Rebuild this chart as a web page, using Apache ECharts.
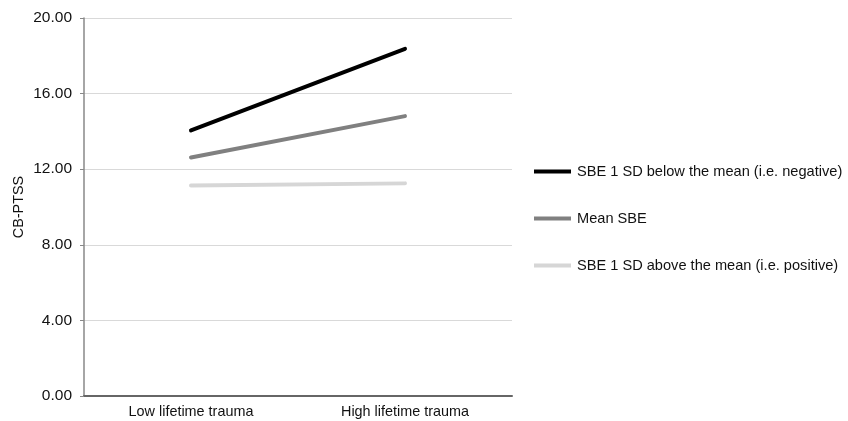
<!DOCTYPE html>
<html>
<head>
<meta charset="utf-8">
<script src="https://cdn.jsdelivr.net/npm/echarts@6/dist/echarts.min.js"></script>
<style>
  html, body { margin: 0; padding: 0; background: #fff; }
  #chart { width: 848px; height: 421px; }
</style>
</head>
<body>
<div id="chart"></div>
<script>
const categories = ['Low lifetime trauma', 'High lifetime trauma']
const seriesNames = [
  'SBE 1 SD below the mean (i.e. negative)',
  'Mean SBE',
  'SBE 1 SD above the mean (i.e. positive)'
]
const belowMean = [14.05, 18.37]
const meanSbe = [12.62, 14.81]
const aboveMean = [11.14, 11.25]
const seriesColors = ['#000000', '#808080', '#d6d6d6']

const font = 'Liberation Sans, Arial, sans-serif'

function lineSeries(name, data, color) {
  return {
    name: name,
    type: 'line',
    data: data,
    symbol: 'none',
    lineStyle: { color: color, width: 4, cap: 'round' },
    itemStyle: { color: color }
  }
}

const chart = echarts.init(document.getElementById('chart'))
chart.setOption({
  animation: false,
  backgroundColor: '#fff',
  textStyle: { fontFamily: font },
  grid: {
    left: 84, right: 336, top: 18, bottom: 25,
    containLabel: false, outerBoundsMode: 'none'
  },
  legend: {
    orient: 'vertical',
    left: 529,
    top: 159,
    itemWidth: 37,
    itemHeight: 4,
    itemGap: 32,
    icon: 'rect',
    textStyle: { fontFamily: font, fontSize: 14.6, color: '#111', padding: [0, 0, 0, 1] },
    data: seriesNames
  },
  xAxis: {
    type: 'category',
    data: categories,
    boundaryGap: true,
    axisLine: { lineStyle: { color: '#666', width: 2 } },
    axisTick: { show: false },
    axisLabel: { fontSize: 14.4, color: '#111', margin: 9 }
  },
  yAxis: {
    type: 'value',
    min: 0,
    max: 20,
    interval: 4,
    name: 'CB-PTSS',
    nameLocation: 'middle',
    nameGap: 58,
    nameMoveOverlap: false,
    nameRotate: 90,
    nameTextStyle: { fontSize: 14.4, color: '#111' },
    axisLine: { show: true, lineStyle: { color: '#888', width: 1.5 } },
    axisTick: { show: true, length: 4, lineStyle: { color: '#888' } },
    splitLine: { lineStyle: { color: '#d9d9d9', width: 1 } },
    axisLabel: {
      fontSize: 15.5,
      color: '#111',
      margin: 12,
      formatter: function (v) { return v.toFixed(2) }
    }
  },
  series: [
    lineSeries(seriesNames[0], belowMean, seriesColors[0]),
    lineSeries(seriesNames[1], meanSbe, seriesColors[1]),
    lineSeries(seriesNames[2], aboveMean, seriesColors[2])
  ]
})
</script>
</body>
</html>
